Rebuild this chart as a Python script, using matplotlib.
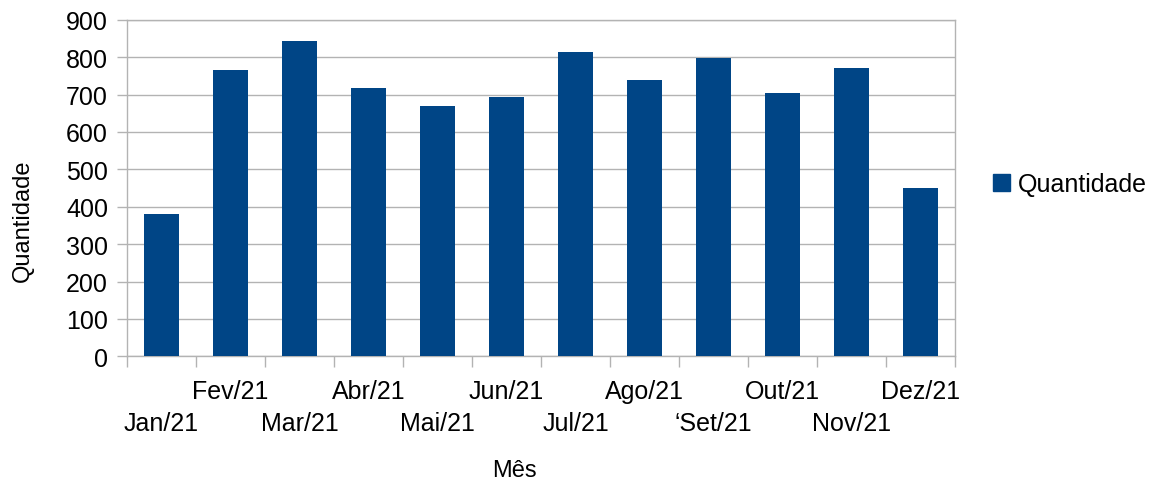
import matplotlib
matplotlib.use("Agg")
import matplotlib.pyplot as plt
from matplotlib.patches import Patch
from matplotlib.transforms import ScaledTranslation
import numpy as np

months = ["Jan/21", "Fev/21", "Mar/21", "Abr/21", "Mai/21", "Jun/21",
          "Jul/21", "Ago/21", "‘Set/21", "Out/21", "Nov/21", "Dez/21"]
quantidade = [380, 766, 843, 717, 670, 694, 814, 739, 798, 704, 771, 450]
yticks = [0, 100, 200, 300, 400, 500, 600, 700, 800, 900]

plt.rcParams['font.family'] = ['Liberation Sans', 'DejaVu Sans']

W, H = 1156, 481
fig = plt.figure(figsize=(W / 100, H / 100), dpi=100)
ax = fig.add_axes([127 / W, 1 - 357.3 / H, (955 - 127) / W, (357.3 - 20.7) / H])

bar_color = "#004586"
grid_color = "#b3b3b3"
x = np.arange(len(months))
ax.bar(x, quantidade, width=0.5, color=bar_color, zorder=3)

ax.set_xlim(-0.5, len(months) - 0.5)
ax.set_ylim(0, 900)
ax.set_yticks(yticks)
ax.set_yticklabels([str(v) for v in yticks])
ax.yaxis.grid(True, color=grid_color, linewidth=1.0, zorder=0)

# category boundary ticks (major, no labels) and centered labels (minor)
ax.set_xticks(np.arange(len(months) + 1) - 0.5)
ax.set_xticklabels([])
ax.set_xticks(x, minor=True)
ax.set_xticklabels(months, minor=True)
ax.tick_params(axis='x', which='major', length=8, color=grid_color, width=1)
ax.tick_params(axis='x', which='minor', length=0, pad=16.5, labelsize=18, colors='black')
ax.tick_params(axis='y', length=7.2, color=grid_color, width=1, pad=6.5, labelsize=18)

offset = ScaledTranslation(0, -32 / 100, fig.dpi_scale_trans)
for i, lab in enumerate(ax.get_xticklabels(minor=True)):
    if i % 2 == 0:
        lab.set_transform(lab.get_transform() + offset)

for s in ax.spines.values():
    s.set_color(grid_color)
    s.set_linewidth(1.0)

fig.text(23 / W, 1 - 220.5 / H, "Quantidade", rotation=90, ha='center', va='center', fontsize=17)
fig.text(514 / W, 1 - 471 / H, "Mês", ha='center', va='center', fontsize=17)

handle = Patch(facecolor=bar_color, edgecolor=bar_color)
fig.legend([handle], ["Quantidade"], loc='center left',
           bbox_to_anchor=(993 / W, 1 - 185 / H), frameon=False, fontsize=18,
           handlelength=0.68, handleheight=0.68, handletextpad=0.32,
           borderpad=0, borderaxespad=0)

fig.savefig("out.png", dpi=100)
